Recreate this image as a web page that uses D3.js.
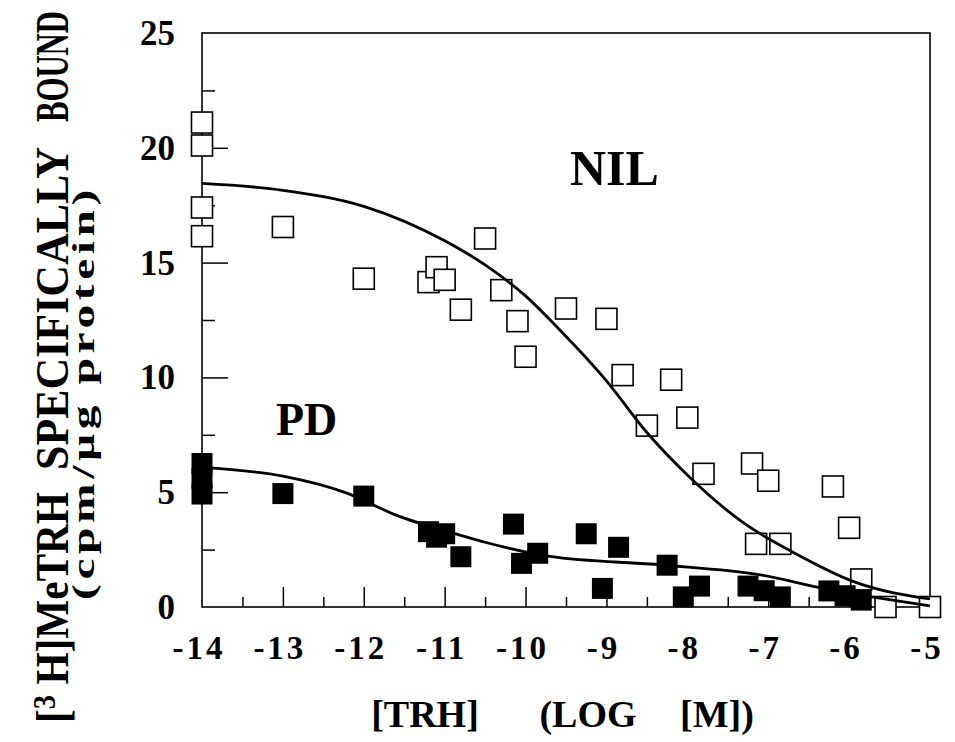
<!DOCTYPE html>
<html>
<head>
<meta charset="utf-8">
<script src="https://cdn.jsdelivr.net/npm/d3@7"></script>
<style>
  body { margin: 0; background: #fff; }
  svg { display: block; }
</style>
</head>
<body>
<div id="chart"></div>
<script>
// ---- donnees ----
const xTicks = [-14, -13, -12, -11, -10, -9, -8, -7, -6, -5];
const yTicks = [0, 5, 10, 15, 20, 25];

// NIL : carres vides
const nilX = [-14, -14, -14, -14, -13, -12, -11.2, -11.1, -11, -10.8, -10.5, -10.3, -10.1, -9.5, -9,
              -10, -8.8, -8.2, -8, -8.5, -7.8, -7.2, -7, -6.2, -6, -7.15, -6.85, -5.85, -5.55, -5];
const nilY = [21.1, 20.1, 17.4, 16.15, 16.55, 14.3, 14.15, 14.8, 14.25, 12.95, 16.05, 13.8, 12.45, 13, 12.55,
              10.9, 10.1, 9.9, 8.25, 7.9, 5.8, 6.25, 5.5, 5.25, 3.45, 2.75, 2.75, 1.2, 0, 0];

// PD : carres pleins
const pdX = [-14, -14, -14, -13, -12, -11.2, -11.1, -11, -10.8, -10.15, -10.05, -9.85, -9.25, -8.85, -9.05,
             -8.25, -8.05, -7.85, -7.25, -7.05, -6.85, -6.25, -6.05, -5.85];
const pdY = [6.25, 5.6, 4.92, 4.94, 4.83, 3.28, 3.04, 3.19, 2.19, 3.61, 1.9, 2.34, 3.19, 2.6, 0.81,
             1.82, 0.44, 0.91, 0.91, 0.71, 0.44, 0.7, 0.49, 0.3];

// courbes ajustees (points lus le long du trait)
const nilCurveX = [-14, -13, -12, -11, -10.5, -10, -9.6, -9, -8.5, -8, -7.3, -6.7, -5.9, -5];
const nilCurveY = [18.45, 18.15, 17.45, 15.95, 14.9, 13.55, 12.15, 9.85, 7.6, 5.75, 3.65, 2.4, 1.05, 0.35];
const pdCurveX = [-14, -13, -12.2, -11.6, -10.8, -10.5, -9.7, -8.3, -7.1, -6.3, -5];
const pdCurveY = [6.08, 5.7, 4.95, 4.0, 3.12, 2.82, 2.2, 1.83, 1.4, 0.8, 0.05];

// ---- dimensions ----
const W = 955, H = 742;
const mLeft = 202, mRight = 930, mTop = 33, mBottom = 607;
const serif = '"Liberation Serif", "Times New Roman", serif';
const sq = 21; // cote des carres

const svg = d3.select("#chart").append("svg")
  .attr("width", W).attr("height", H)
  .attr("font-family", serif)
  .attr("font-weight", "bold");

const x = d3.scaleLinear().domain([-14, -5]).range([mLeft, mRight]);
const y = d3.scaleLinear().domain([0, 25]).range([mBottom, mTop]);

// ---- axes (ticks vers l'interieur) ----
const xMinor = d3.range(-13.5, -5, 1);
const yMinor = d3.range(2.5, 25, 5);

const gx = svg.append("g").attr("transform", `translate(0,${mBottom})`)
  .call(d3.axisBottom(x).tickValues(xTicks.filter(d => d > -14 && d < -5)).tickSize(-20).tickFormat(""));
gx.select(".domain").remove();
const gxm = svg.append("g").attr("transform", `translate(0,${mBottom})`)
  .call(d3.axisBottom(x).tickValues(xMinor).tickSize(-10).tickFormat(""));
gxm.select(".domain").remove();

const gy = svg.append("g").attr("transform", `translate(${mLeft},0)`)
  .call(d3.axisLeft(y).tickValues(yTicks.filter(d => d > 0 && d < 25)).tickSize(-26).tickFormat(""));
gy.select(".domain").remove();
const gym = svg.append("g").attr("transform", `translate(${mLeft},0)`)
  .call(d3.axisLeft(y).tickValues(yMinor).tickSize(-13).tickFormat(""));
gym.select(".domain").remove();

svg.selectAll(".tick line").attr("stroke", "#000").attr("stroke-width", 1.5);

// cadre
svg.append("rect")
  .attr("x", mLeft).attr("y", mTop)
  .attr("width", mRight - mLeft).attr("height", mBottom - mTop)
  .attr("fill", "none").attr("stroke", "#000").attr("stroke-width", 1.6);

// etiquettes des ticks
svg.append("g").selectAll("text").data(xTicks).join("text")
  .attr("x", d => x(d) - 3)
  .attr("y", 659)
  .attr("text-anchor", "middle")
  .attr("font-size", 33)
  .attr("letter-spacing", 3)
  .text(d => String(d));

svg.append("g").selectAll("text").data(yTicks).join("text")
  .attr("x", 175)
  .attr("y", d => y(d) + 12)
  .attr("text-anchor", "end")
  .attr("font-size", 35)
  .text(d => String(d));

// ---- points ----
const nil = nilX.map((d, i) => ({ x: d, y: nilY[i] }));
const pd = pdX.map((d, i) => ({ x: d, y: pdY[i] }));

svg.append("g").selectAll("rect").data(nil).join("rect")
  .attr("x", d => x(d.x) - sq / 2)
  .attr("y", d => y(d.y) - sq / 2)
  .attr("width", sq).attr("height", sq)
  .attr("fill", "#fff").attr("stroke", "#000").attr("stroke-width", 1.6);

svg.append("g").selectAll("rect").data(pd).join("rect")
  .attr("x", d => x(d.x) - sq / 2)
  .attr("y", d => y(d.y) - sq / 2)
  .attr("width", sq).attr("height", sq)
  .attr("fill", "#000");

// ---- courbes ----
const line = d3.line().x(d => x(d[0])).y(d => y(d[1])).curve(d3.curveMonotoneX);
svg.append("path")
  .attr("d", line(nilCurveX.map((d, i) => [d, nilCurveY[i]])))
  .attr("fill", "none").attr("stroke", "#000").attr("stroke-width", 2.8);
svg.append("path")
  .attr("d", line(pdCurveX.map((d, i) => [d, pdCurveY[i]])))
  .attr("fill", "none").attr("stroke", "#000").attr("stroke-width", 2.8);

// ---- libelles ----
svg.append("text").attr("x", 570).attr("y", 185).attr("font-size", 50).text("NIL");
svg.append("text").attr("x", 276).attr("y", 435).attr("font-size", 46).text("PD");

// texte compresse/etire a une longueur donnee (echelle le long du texte)
function ajuste(sel, longueur, base) {
  const n = sel.node().getComputedTextLength();
  sel.attr("transform", base + ` scale(${longueur / n},1)`);
  return sel;
}

// titre axe x : mots centres sur leur place dans la figure
const xt = [["[TRH]", 425], ["(LOG", 588], ["[M])", 717]];
xt.forEach(([t, c]) => {
  svg.append("text").attr("x", c).attr("y", 727)
    .attr("text-anchor", "middle")
    .attr("font-size", 38)
    .text(t);
});

// titre axe y (tourne)
const mots = [["BOUND", 122, 11], ["SPECIFICALLY", 470, 147]];
mots.forEach(([t, yb, yh]) => {
  const s = svg.append("text").attr("font-size", 46).text(t);
  ajuste(s, yb - yh, `translate(68,${yb}) rotate(-90)`);
});
const t1 = svg.append("text").attr("font-size", 46);
t1.append("tspan").text("[");
t1.append("tspan").attr("font-size", 32).attr("dy", -13).text("3");
t1.append("tspan").attr("dy", 13).text(" H]MeTRH");
ajuste(t1, 723 - 492, `translate(68,723) rotate(-90)`);

const t2 = svg.append("text").attr("font-size", 31).attr("letter-spacing", 3).text("(cpm/µg protein)");
ajuste(t2, 600 - 185, `translate(94,600) rotate(-90)`);
</script>
</body>
</html>
